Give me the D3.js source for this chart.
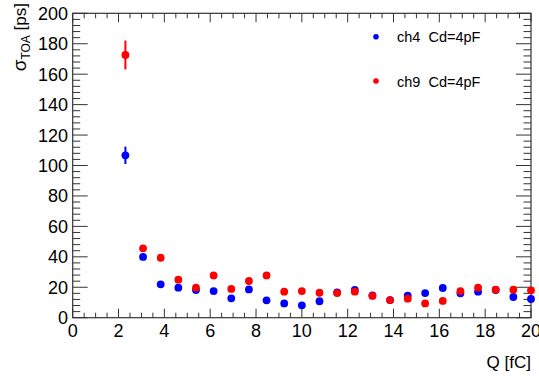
<!DOCTYPE html>
<html><head><meta charset="utf-8">
<script src="https://cdn.jsdelivr.net/npm/d3@7"></script>
<style>
body{margin:0;background:#fff;}
svg{display:block;font-family:"Liberation Sans",Arial,Helvetica,sans-serif;}
</style></head>
<body>
<svg id="c" width="539" height="378"></svg>
<script>
const charges = [2.3,3.07,3.84,4.61,5.38,6.15,6.92,7.69,8.46,9.23,10.0,10.77,11.54,12.31,13.08,13.85,14.62,15.38,16.15,16.92,17.69,18.46,19.23,20.0];
const ch4 = [106.7,39.9,21.9,19.7,18.2,17.5,12.7,18.6,11.4,9.4,8.1,10.8,16.7,18.2,14.7,11.6,14.5,16.2,19.5,16.0,17.1,18.2,13.6,12.3];
const ch4Err = [5.7,1,1,1,1,1,1,1,1,1,1,1,1,1,1,1,1,1,1,1,1,1,1,1];
const ch9 = [172.6,45.6,39.4,25.0,19.7,27.8,18.9,24.1,27.8,17.1,17.5,16.4,16.2,17.1,14.3,11.6,12.5,9.4,11.0,17.5,19.7,18.4,18.4,18.0];
const ch9Err = [9.5,1,1,1,1,1,1,1,1,1,1,1,1,1,1,1,1,1,1,1,1,1,1,1];
const seriesNames = ["ch4  Cd=4pF","ch9  Cd=4pF"];
const seriesColors = ["#0000ff","#ff0000"];
const xTicks = [0,2,4,6,8,10,12,14,16,18,20];
const yTicks = [0,20,40,60,80,100,120,140,160,180,200];

const svg = d3.select("#c");
const L=72.7, R=531, T=13.3, B=317.7;
const x = d3.scaleLinear().domain([0,20]).range([L,R]);
const y = d3.scaleLinear().domain([0,200]).range([B,T]);
const axisColor="#333";

svg.append("rect").attr("x",L).attr("y",T).attr("width",R-L).attr("height",B-T)
  .attr("fill","none").attr("stroke",axisColor).attr("stroke-width",1.2);

const xMinor = d3.range(0,20.001,0.5);
xMinor.forEach(v=>{
  const major = Math.abs(v/2-Math.round(v/2))<1e-6;
  const len = major?9:5;
  svg.append("line").attr("x1",x(v)).attr("x2",x(v)).attr("y1",B).attr("y2",B-len).attr("stroke",axisColor);
  svg.append("line").attr("x1",x(v)).attr("x2",x(v)).attr("y1",T).attr("y2",T+len).attr("stroke",axisColor);
});
const yMinor = d3.range(0,200.001,4);
yMinor.forEach(v=>{
  const major = v%20===0;
  const len = major?15:7.5;
  svg.append("line").attr("y1",y(v)).attr("y2",y(v)).attr("x1",L).attr("x2",L+len).attr("stroke",axisColor);
  svg.append("line").attr("y1",y(v)).attr("y2",y(v)).attr("x1",R).attr("x2",R-len).attr("stroke",axisColor);
});

svg.append("g").selectAll("text").data(xTicks).join("text")
  .attr("x",d=>x(d)).attr("y",337).attr("text-anchor","middle")
  .attr("font-size",18).attr("fill","#000").text(d=>d);
svg.append("g").selectAll("text").data(yTicks).join("text")
  .attr("x",68).attr("y",d=>y(d)).attr("dy","0.36em").attr("text-anchor","end")
  .attr("font-size",18).attr("fill","#000").text(d=>d);

svg.append("text").attr("x",531).attr("y",367.5).attr("text-anchor","end")
  .attr("font-size",17).text("Q [fC]");
const yt = svg.append("text").attr("transform","translate(26,3) rotate(-90)")
  .attr("text-anchor","end").attr("font-size",17);
yt.append("tspan").attr("font-size",19).text("σ");
yt.append("tspan").attr("font-size",12).attr("dy",4).text("TOA");
yt.append("tspan").attr("dy",-4).text(" [ps]");

const series = [
  {vals:ch4, errs:ch4Err, color:seriesColors[0]},
  {vals:ch9, errs:ch9Err, color:seriesColors[1]}
];
series.forEach(s=>{
  const g = svg.append("g");
  g.selectAll("line").data(charges).join("line")
    .attr("x1",d=>x(d)).attr("x2",d=>x(d))
    .attr("y1",(d,i)=>y(s.vals[i]-s.errs[i])).attr("y2",(d,i)=>y(s.vals[i]+s.errs[i]))
    .attr("stroke",s.color).attr("stroke-width",2);
  g.selectAll("circle").data(charges).join("circle")
    .attr("cx",d=>x(d)).attr("cy",(d,i)=>y(s.vals[i])).attr("r",3.9).attr("fill",s.color);
});

const legY=[36.7,81];
seriesNames.forEach((n,i)=>{
  svg.append("circle").attr("cx",376).attr("cy",legY[i]).attr("r",2.8).attr("fill",seriesColors[i]);
  svg.append("text").attr("x",397).attr("y",legY[i]+5.5).attr("font-size",14.5).attr("fill","#000")
    .style("white-space","pre").text(n);
});
</script>
</body></html>
